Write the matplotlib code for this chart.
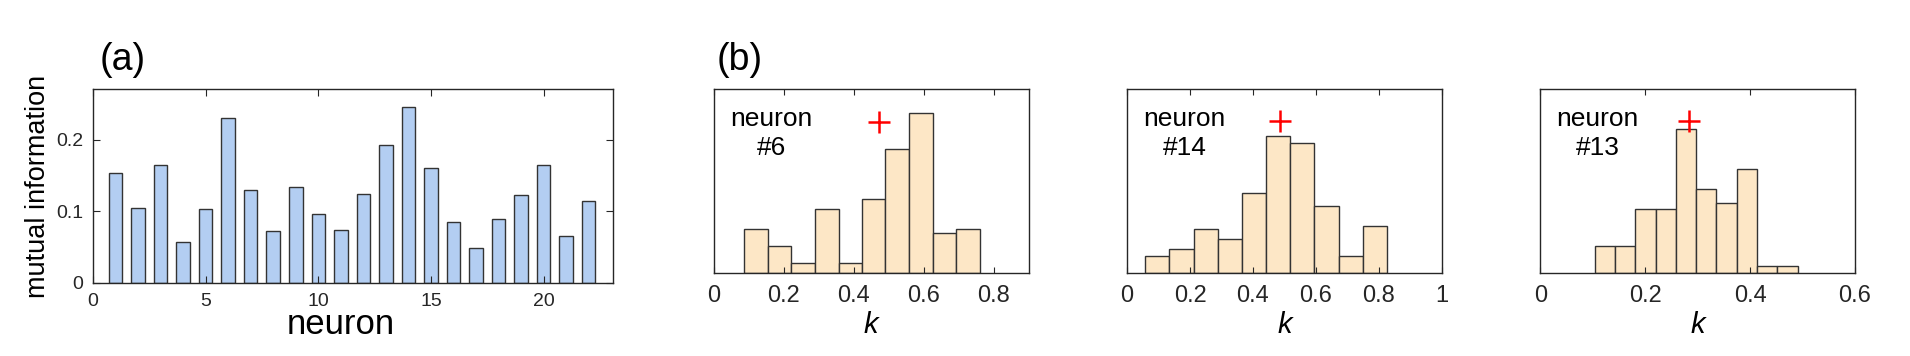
import numpy as np
import matplotlib
matplotlib.use("Agg")
import matplotlib.pyplot as plt

plt.rcParams['font.family'] = ['Liberation Sans', 'DejaVu Sans']

# panel (a): mutual information per neuron
neurons = np.arange(1, 23)
mutual_info = [0.153, 0.105, 0.164, 0.057, 0.103, 0.230, 0.130, 0.072, 0.134, 0.096, 0.074,
               0.124, 0.193, 0.246, 0.161, 0.085, 0.049, 0.089, 0.123, 0.164, 0.066, 0.114]

# panel (b): histograms of k for three neurons
hist_names = ["#6", "#14", "#13"]
hist_edges = [
    [0.087, 0.154, 0.222, 0.289, 0.357, 0.424, 0.491, 0.559, 0.627, 0.694, 0.762],
    [0.057, 0.133, 0.212, 0.289, 0.365, 0.441, 0.517, 0.595, 0.672, 0.748, 0.825],
    [0.104, 0.142, 0.181, 0.220, 0.259, 0.297, 0.336, 0.375, 0.413, 0.452, 0.491],
]
hist_counts = [
    [13, 8, 3, 19, 3, 22, 37, 48, 12, 13],
    [5, 7, 13, 10, 24, 41, 39, 20, 5, 14],
    [8, 8, 19, 19, 43, 25, 21, 31, 2, 2],
]
cross_k = [0.473, 0.487, 0.283]
cross_y = [45.3, 45.5, 45.5]
hist_xmax = [0.9, 1.0, 0.6]
hist_xticks = [[0, 0.2, 0.4, 0.6, 0.8], [0, 0.2, 0.4, 0.6, 0.8, 1], [0, 0.2, 0.4, 0.6]]
hist_xlabels = [["0", "0.2", "0.4", "0.6", "0.8"],
                ["0", "0.2", "0.4", "0.6", "0.8", "1"],
                ["0", "0.2", "0.4", "0.6"]]

spine_col = "#262626"

fig = plt.figure(figsize=(19.1, 3.56), dpi=100)

# (a)
ax = fig.add_axes([0.0487, 0.2051, 0.2721, 0.5449])
ax.bar(neurons, mutual_info, width=0.6, color="#b3cef2", edgecolor="#333333", linewidth=1.0)
ax.set_xlim(0, 23.07)
ax.set_ylim(0, 0.2706)
ax.set_xticks([0, 5, 10, 15, 20])
ax.set_yticks([0, 0.1, 0.2])
ax.set_yticklabels(["0", "0.1", "0.2"])
ax.tick_params(direction="in", length=5, width=0.8, top=True, right=True,
               labelsize=14, colors=spine_col, pad=7)
for s in ax.spines.values():
    s.set_color(spine_col)
    s.set_linewidth(1.0)
ax.set_xlabel("neuron", fontsize=25)
ax.xaxis.set_label_coords(0.476, -0.13)
ax.set_ylabel("mutual information", fontsize=19.5)
ax.yaxis.set_label_coords(-0.08, 0.5)
fig.text(100 / 1910, 1 - 70 / 356, "(a)", fontsize=27, ha="left", va="baseline")
fig.text(717 / 1910, 1 - 70 / 356, "(b)", fontsize=27, ha="left", va="baseline")

# (b)
lefts = [0.3737, 0.5901, 0.8064]
for i in range(3):
    hx = fig.add_axes([lefts[i], 0.234, 0.1648, 0.5152])
    edges = np.array(hist_edges[i])
    hx.bar(edges[:-1], hist_counts[i], width=np.diff(edges), align="edge",
           color="#fde7c6", edgecolor="#333333", linewidth=1.0)
    hx.plot(cross_k[i], cross_y[i], marker="+", color="red", markersize=16, mew=1.8)
    hx.set_xlim(0, hist_xmax[i])
    hx.set_ylim(0, 55)
    hx.set_yticks([])
    hx.set_xticks(hist_xticks[i])
    hx.set_xticklabels(hist_xlabels[i])
    hx.tick_params(direction="in", length=4, width=0.8, top=True,
                   labelsize=17, colors=spine_col, pad=9)
    for s in hx.spines.values():
        s.set_color(spine_col)
        s.set_linewidth(1.0)
    hx.set_xlabel("k", fontsize=21, fontstyle="italic", labelpad=3)
    hx.text(0.183, 0.76, "neuron\n" + hist_names[i], transform=hx.transAxes,
            fontsize=19, ha="center", va="center", multialignment="center",
            linespacing=1.25)

fig.savefig("out.png", dpi=100)
